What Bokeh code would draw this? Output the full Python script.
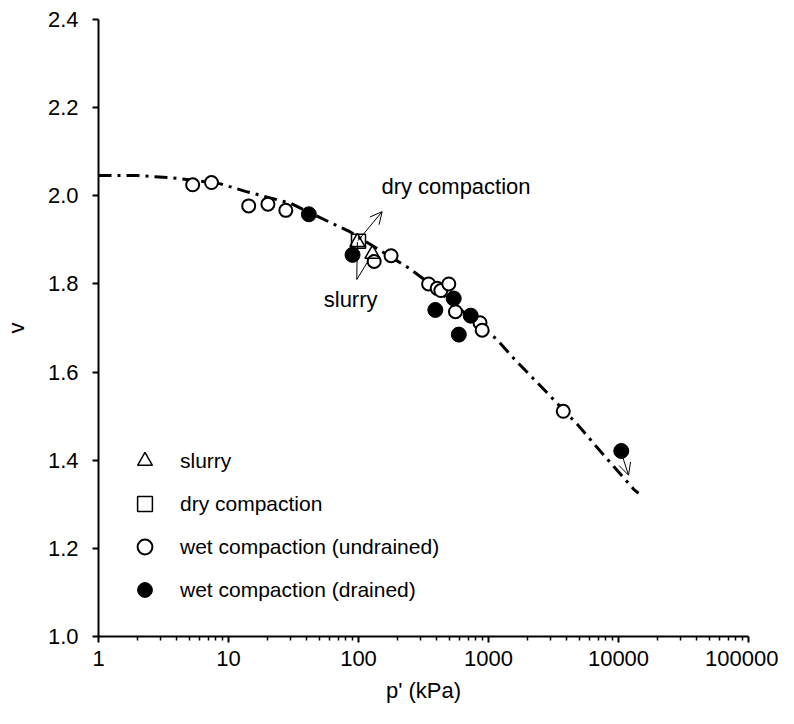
from bokeh.plotting import figure
from bokeh.models import (Range1d, FixedTicker, NumeralTickFormatter, Legend, LegendItem,
                          Arrow, OpenHead)
from bokeh.core.properties import value
from bokeh.embed import file_html
from bokeh.resources import INLINE

FONT = "Liberation Sans"

# ---- data ----
slurry_p = [98, 128]
slurry_v = [1.895, 1.868]
dry_p = [100]
dry_v = [1.897]
undrained_p = [5.3, 7.4, 14.3, 20.1, 27.6, 132, 178, 346, 403, 430, 495, 557, 860, 894, 3760]
undrained_v = [2.025, 2.030, 1.977, 1.981, 1.967, 1.851, 1.864, 1.800, 1.790, 1.785, 1.800, 1.737, 1.712, 1.695, 1.511]
drained_p = [41.5, 90, 390, 540, 730, 591, 10500]
drained_v = [1.958, 1.866, 1.741, 1.767, 1.728, 1.685, 1.421]

curve_p = [1, 2, 4, 8.7, 13.5, 30, 60, 84, 244, 331, 1150, 1610, 2740, 4800, 7940, 13100, 14250]
curve_v = [2.046, 2.046, 2.040, 2.027, 2.010, 1.983, 1.940, 1.920, 1.836, 1.807, 1.675, 1.627, 1.557, 1.482, 1.407, 1.334, 1.325]

x_ticks = [1, 10, 100, 1000, 10000, 100000]
x_tick_labels = ["1", "10", "100", "1000", "10000", "100000"]
y_ticks = [1.0, 1.2, 1.4, 1.6, 1.8, 2.0, 2.2, 2.4]

# annotations (data coordinates)
dry_arrow = (99, 1.898, 152, 1.964)
slurry_lines_start = (97, 1.81)
end_arrow = (10700, 1.41, 11940, 1.366)
dry_label = ("dry compaction", 150, 2.02)
slurry_label = ("slurry", 87, 1.764)

p = figure(width=778, height=708, x_axis_type="log",
           x_range=Range1d(1, 100000), y_range=Range1d(1.0, 2.4),
           output_backend="svg", toolbar_location=None,
           min_border_left=92, min_border_right=30, min_border_top=19, min_border_bottom=72)
p.outline_line_color = None
p.grid.visible = False
p.background_fill_color = "white"

# axes
minor = [m * 10 ** e for e in range(0, 5) for m in range(2, 10)]
p.xaxis.ticker = FixedTicker(ticks=x_ticks, minor_ticks=minor)
p.xaxis.major_label_overrides = {t: l for t, l in zip(x_ticks, x_tick_labels)}
p.yaxis.ticker = FixedTicker(ticks=y_ticks, minor_ticks=[])
p.yaxis.formatter = NumeralTickFormatter(format="0.0")
for ax in (p.xaxis[0], p.yaxis[0]):
    ax.axis_line_width = 2
    ax.axis_line_color = "black"
    ax.major_tick_line_width = 2
    ax.major_tick_line_color = "black"
    ax.major_tick_in = 0
    ax.major_tick_out = 6
    ax.minor_tick_in = 0
    ax.minor_tick_out = 4
    ax.minor_tick_line_width = 1.5
    ax.minor_tick_line_color = "black"
    ax.major_label_text_font = FONT
    ax.major_label_text_font_size = "22px"
    ax.major_label_text_color = "black"
    ax.axis_label_text_font = FONT
    ax.axis_label_text_font_size = "22px"
    ax.axis_label_text_font_style = "normal"
    ax.axis_label_text_color = "black"
p.xaxis.axis_label = "p' (kPa)"
p.yaxis.axis_label = "v"
p.xaxis.major_label_standoff = 8
p.yaxis.major_label_standoff = 14
p.xaxis.axis_label_standoff = 9
p.yaxis.axis_label_standoff = 16

# fitted curve
p.line(curve_p, curve_v, line_color="black", line_width=3, line_dash="13 6 3 6")

# annotations
hx, hy = slurry_lines_start
for xs, ys in zip(slurry_p, slurry_v):
    p.line([hx, xs], [hy, ys], line_color="black", line_width=1)
p.add_layout(Arrow(end=OpenHead(size=12, line_width=1, line_color="black"),
                   x_start=dry_arrow[0], y_start=dry_arrow[1], x_end=dry_arrow[2], y_end=dry_arrow[3],
                   line_width=1, line_color="black"))
p.add_layout(Arrow(end=OpenHead(size=12, line_width=1, line_color="black"),
                   x_start=end_arrow[0], y_start=end_arrow[1], x_end=end_arrow[2], y_end=end_arrow[3],
                   line_width=1, line_color="black"))
p.text(x=[dry_label[1]], y=[dry_label[2]], text=[dry_label[0]], text_font=value(FONT),
       text_font_size="22px", text_align="left", text_baseline="middle", text_color="black")
p.text(x=[slurry_label[1]], y=[slurry_label[2]], text=[slurry_label[0]], text_font=value(FONT),
       text_font_size="22px", text_align="center", text_baseline="middle", text_color="black")

# markers
r_und = p.scatter(undrained_p, undrained_v, marker="circle", size=13, fill_color="white",
                  line_color="black", line_width=2)
r_dr = p.scatter(drained_p, drained_v, marker="circle", size=15, fill_color="black",
                 line_color="black", line_width=1)
r_sl = p.scatter(slurry_p, slurry_v, marker="triangle", size=15, fill_color=None,
                 line_color="black", line_width=1.5)
r_dry = p.scatter(dry_p, dry_v, marker="square", size=14, fill_color=None,
                  line_color="black", line_width=1.5)

legend = Legend(items=[LegendItem(label="slurry", renderers=[r_sl]),
                       LegendItem(label="dry compaction", renderers=[r_dry]),
                       LegendItem(label="wet compaction (undrained)", renderers=[r_und]),
                       LegendItem(label="wet compaction (drained)", renderers=[r_dr])],
                location=(28, 28), orientation="vertical",
                border_line_color=None, background_fill_alpha=0,
                label_text_font=FONT, label_text_font_size="21px", label_text_color="black",
                glyph_width=37, glyph_height=37, label_height=37,
                label_standoff=17, spacing=6, padding=0, margin=0)
p.add_layout(legend, "center")

open("out.html", "w").write(file_html(p, INLINE))
